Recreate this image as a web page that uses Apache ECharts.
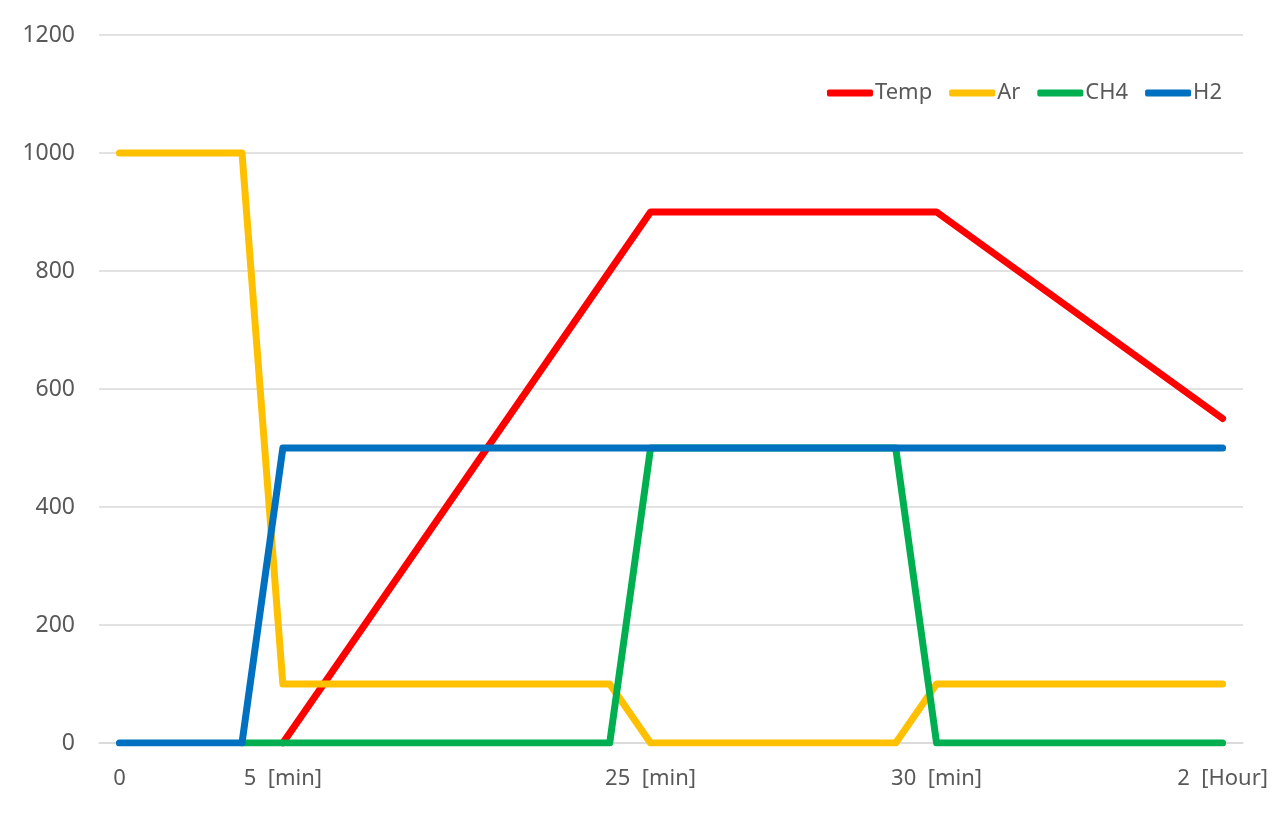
<!DOCTYPE html>
<html><head><meta charset="utf-8">
<script src="https://cdn.jsdelivr.net/npm/echarts@6/dist/echarts.min.js"></script>
<style>html,body{margin:0;padding:0;background:#fff}#c{width:1287px;height:819px}</style>
</head><body><div id="c"></div>
<script>
const categories = ['0','','','','5  [min]','','','','','','','','','25  [min]','','','','','','','30  [min]','','','','','','','2  [Hour]'];
const temp = [null,null,null,null,0,100,200,300,400,500,600,700,800,900,900,900,900,900,900,900,900,850,800,750,700,650,600,550];
const ar   = [1000,1000,1000,1000,100,100,100,100,100,100,100,100,100,0,0,0,0,0,0,0,100,100,100,100,100,100,100,100];
const ch4  = [null,null,null,0,0,0,0,0,0,0,0,0,0,500,500,500,500,500,500,500,0,0,0,0,0,0,0,0];
const h2   = [0,0,0,0,500,500,500,500,500,500,500,500,500,500,500,500,500,500,500,500,500,500,500,500,500,500,500,500];
const yTicks = {min:0, max:1200, interval:200};

const font = '"Noto Sans", sans-serif';
const mk = (name, data, color) => ({
  name, type:'line', data, symbol:'none', connectNulls:false,
  lineStyle:{width:7, color, cap:'round', join:'round'}, itemStyle:{color},
  animation:false
});
const chart = echarts.init(document.getElementById('c'));
chart.setOption({
  animation:false,
  grid:{left:99, right:44, top:35, bottom:76, containLabel:false},
  legend:{right:60, top:77, icon:'roundRect', itemWidth:46, itemHeight:7, itemGap:17,
    textStyle:{fontFamily:font, fontSize:22, color:'#595959', padding:[0,0,0,-3]},
    data:['Temp','Ar','CH4','H2']},
  xAxis:{type:'category', data:categories, boundaryGap:true,
    axisLine:{lineStyle:{color:'#D9D9D9', width:1.5}}, axisTick:{show:false},
    axisLabel:{interval:0, color:'#595959', fontFamily:font, fontSize:22, margin:25}},
  yAxis:{type:'value', min:yTicks.min, max:yTicks.max, interval:yTicks.interval,
    axisLine:{show:false}, axisTick:{show:false},
    axisLabel:{color:'#595959', fontFamily:font, fontSize:23, margin:24, formatter:v=>String(v)},
    splitLine:{lineStyle:{color:'#D9D9D9', width:1.5}}},
  series:[mk('Temp',temp,'#FF0000'), mk('Ar',ar,'#FFC000'), mk('CH4',ch4,'#00B050'), mk('H2',h2,'#0070C0')]
});
</script></body></html>
